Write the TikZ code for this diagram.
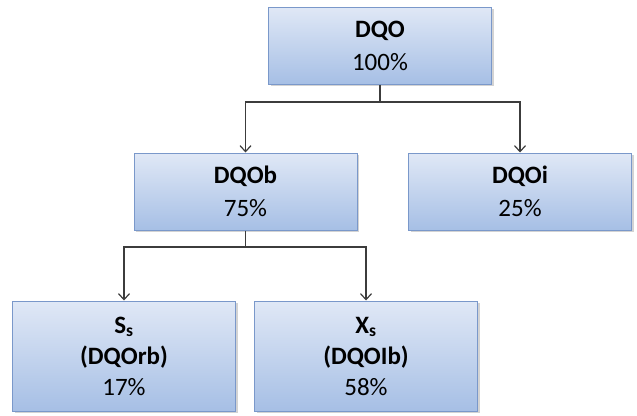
\documentclass[tikz,border=0pt]{standalone}
\usepackage{fontspec}
\setmainfont{Carlito}
\usetikzlibrary{arrows.meta,shadows}

\definecolor{boxtop}{RGB}{224,232,246}
\definecolor{boxbottom}{RGB}{166,191,229}
\definecolor{boxline}{RGB}{122,152,202}
\definecolor{linkgray}{RGB}{60,60,60}

\tikzset{
  block/.style={draw=boxline,line width=1pt,top color=boxtop,bottom color=boxbottom,
    minimum width=223,minimum height=77,align=center,inner sep=0pt,
    font=\fontsize{25}{33}\selectfont,
    drop shadow={shadow xshift=2pt,shadow yshift=-2pt,opacity=0.35,fill=gray}},
  link/.style={draw=linkgray,line width=1.2pt,-{Straight Barb[length=6pt,width=11pt]}}
}

\begin{document}
\begin{tikzpicture}[x=1pt,y=-1pt]
\useasboundingbox (0,0) rectangle (637,415);
\node[block] (dqo) at (380,45.5) {\textbf{DQO}\\100\%};
\node[block] (dqob) at (245.5,191.5) {\textbf{DQOb}\\75\%};
\node[block] (dqoi) at (520,191.5) {\textbf{DQOi}\\25\%};
\node[block,minimum height=110,font=\fontsize{25}{31}\selectfont] (ss) at (124,356)
  {\textbf{S\textsubscript{s}}\\\textbf{(DQOrb)}\\17\%};
\node[block,minimum height=110,font=\fontsize{25}{31}\selectfont] (xs) at (366,356)
  {\textbf{X\textsubscript{s}}\\\textbf{(DQOIb)}\\58\%};
% split points
\coordinate (split1) at (380,102);
\coordinate (split2) at (245.5,247);
\draw[link] (dqo.south) -- (split1) -| (dqob.north);
\draw[link] (split1) -| (dqoi.north);
\draw[link] (dqob.south) -- (split2) -| (ss.north);
\draw[link] (split2) -| (xs.north);
\end{tikzpicture}
\end{document}
